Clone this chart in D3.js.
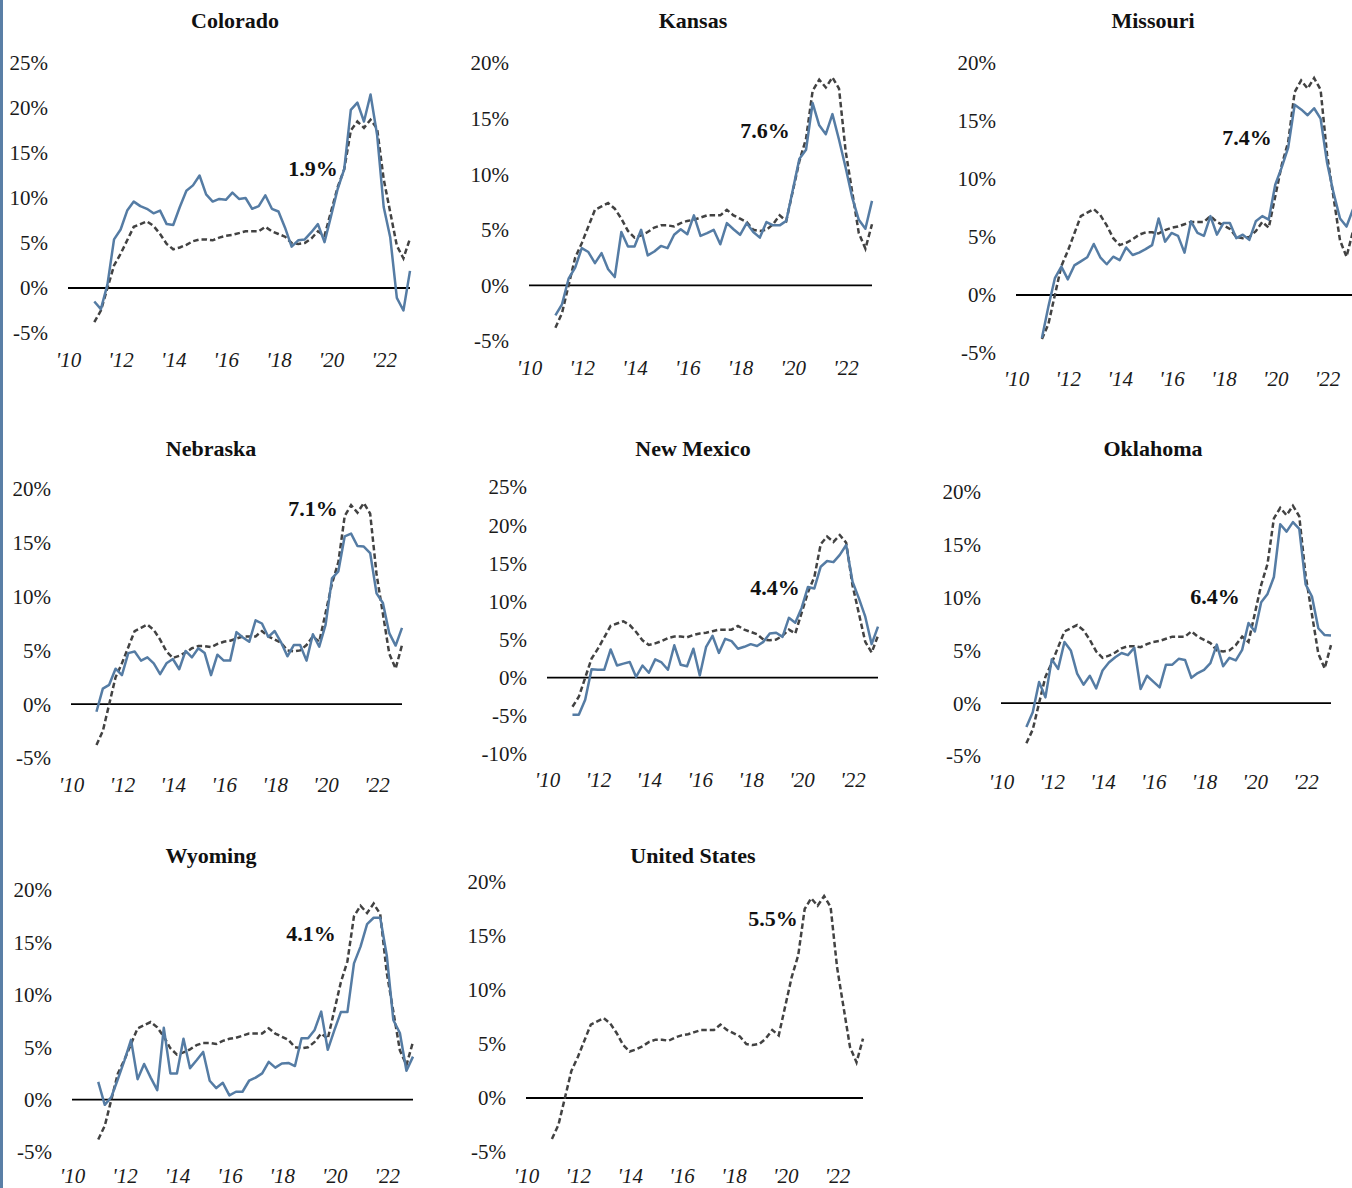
<!DOCTYPE html>
<html>
<head>
<meta charset="utf-8">
<script src="https://cdn.jsdelivr.net/npm/d3@7"></script>
<style>
  html, body { margin: 0; padding: 0; background: #fff; }
  svg { display: block; }
</style>
</head>
<body>
<svg id="chart" width="1352" height="1188"></svg>
<script>
// Year-over-year house price growth, quarterly, 2011Q1 - 2023Q1 (percent)
const firstYear = 2011;
const quarterCount = 49;

const unitedStates = [-3.8, -2.5, 0.0, 2.5, 3.8, 5.3, 6.8, 7.1, 7.4, 6.9, 6.0, 4.9, 4.3, 4.5, 4.8, 5.2, 5.4, 5.4, 5.3, 5.6, 5.8, 5.9, 6.1, 6.3, 6.3, 6.3, 6.8, 6.3, 6.0, 5.7, 5.0, 4.9, 5.0, 5.5, 6.3, 5.8, 8.5, 11.2, 13.2, 17.5, 18.5, 17.8, 18.7, 17.7, 12.1, 8.4, 4.7, 3.3, 5.5];

const colorado = [-1.5, -2.35, 0.4, 5.4, 6.5, 8.6, 9.6, 9.1, 8.8, 8.3, 8.6, 7.1, 7.0, 9.0, 10.8, 11.4, 12.5, 10.4, 9.6, 9.9, 9.8, 10.6, 9.9, 10.0, 8.8, 9.1, 10.3, 8.8, 8.5, 6.7, 4.6, 5.3, 5.4, 6.2, 7.1, 5.1, 8.0, 11.0, 13.2, 19.8, 20.6, 18.5, 21.5, 17.0, 9.0, 5.6, -1.1, -2.5, 1.9];

const kansas = [-2.7, -1.7, 0.6, 1.6, 3.35, 3.0, 2.0, 2.9, 1.45, 0.75, 4.8, 3.5, 3.5, 5.0, 2.7, 3.05, 3.55, 3.35, 4.55, 5.05, 4.6, 6.3, 4.45, 4.7, 5.0, 3.7, 5.6, 5.05, 4.55, 5.6, 4.8, 4.3, 5.7, 5.4, 5.4, 5.8, 8.6, 11.4, 12.2, 16.4, 14.4, 13.6, 15.4, 13.1, 10.6, 7.9, 5.9, 5.1, 7.6];

const missouri = [-3.7, -1.0, 1.45, 2.45, 1.35, 2.55, 2.9, 3.25, 4.4, 3.25, 2.65, 3.3, 3.0, 4.1, 3.45, 3.65, 3.95, 4.3, 6.6, 4.6, 5.35, 5.1, 3.65, 6.35, 5.35, 5.1, 6.8, 5.2, 6.2, 6.2, 4.9, 5.2, 4.75, 6.35, 6.8, 6.5, 9.5, 11.0, 12.7, 16.4, 16.0, 15.5, 16.1, 15.2, 11.4, 8.8, 6.6, 5.9, 7.4];

const nebraska = [-0.7, 1.45, 1.8, 3.3, 2.7, 4.75, 4.9, 4.05, 4.35, 3.8, 2.8, 3.8, 4.2, 3.25, 4.95, 4.35, 5.2, 4.75, 2.7, 4.6, 4.05, 4.05, 6.7, 6.2, 5.8, 7.8, 7.5, 6.25, 6.8, 5.75, 4.45, 5.5, 5.5, 4.05, 6.5, 5.35, 7.4, 11.7, 12.35, 15.6, 15.85, 14.7, 14.65, 14.05, 10.3, 9.4, 6.6, 5.45, 7.1];

const newMexico = [-4.85, -4.85, -2.9, 1.1, 1.05, 1.05, 3.7, 1.6, 1.85, 2.05, 0.1, 1.6, 0.65, 2.4, 2.0, 1.05, 4.25, 1.7, 1.5, 3.8, 0.3, 4.05, 5.5, 3.25, 5.1, 4.8, 3.8, 4.05, 4.4, 4.15, 4.7, 5.8, 5.9, 5.35, 7.85, 7.2, 9.15, 11.9, 11.7, 14.55, 15.3, 15.15, 16.1, 17.4, 12.6, 10.4, 8.0, 4.4, 6.7];

const oklahoma = [-2.25, -0.85, 2.0, 0.55, 4.15, 3.25, 5.8, 5.0, 2.8, 1.75, 2.6, 1.4, 3.1, 3.85, 4.35, 4.75, 4.55, 5.25, 1.35, 2.6, 2.05, 1.5, 3.65, 3.65, 4.2, 4.1, 2.4, 2.85, 3.15, 3.8, 5.55, 3.5, 4.3, 4.05, 5.05, 7.6, 6.8, 9.55, 10.35, 11.95, 16.95, 16.25, 17.15, 16.5, 11.25, 10.1, 7.1, 6.45, 6.4];

const wyoming = [1.7, -0.5, 0.25, 1.95, 3.75, 5.7, 1.95, 3.4, 2.1, 0.9, 6.85, 2.5, 2.5, 5.8, 3.0, 3.75, 4.55, 1.8, 1.1, 1.6, 0.4, 0.75, 0.75, 1.8, 2.1, 2.5, 3.6, 3.05, 3.45, 3.5, 3.2, 5.85, 5.85, 6.65, 8.4, 4.75, 6.6, 8.35, 8.35, 13.0, 14.6, 16.75, 17.35, 17.35, 13.75, 7.6, 6.35, 2.75, 4.1];

const panelNames = ["Colorado", "Kansas", "Missouri", "Nebraska", "New Mexico", "Oklahoma", "Wyoming", "United States"];
const panelSeries = [colorado, kansas, missouri, nebraska, newMexico, oklahoma, wyoming, null];
const latestLabels = ["1.9%", "7.6%", "7.4%", "7.1%", "4.4%", "6.4%", "4.1%", "5.5%"];
const yDomains = [[-5, 25], [-5, 20], [-5, 20], [-5, 20], [-10, 25], [-5, 20], [-5, 20], [-5, 20]];
const xTickYears = [2010, 2012, 2014, 2016, 2018, 2020, 2022];

// Panel geometry: plot left/right (2010 .. 2023), pixel of top/bottom tick, x-label row, title and callout
const layout = [
  { x0: 68,   x1: 410,  yTop: 63,  yBot: 333,  xLab: 360,  title: [235, 20],  note: [313, 168] },
  { x0: 529,  x1: 872,  yTop: 63,  yBot: 341,  xLab: 368,  title: [693, 20],  note: [765, 130] },
  { x0: 1016, x1: 1353, yTop: 63,  yBot: 353,  xLab: 379,  title: [1153, 20], note: [1247, 137] },
  { x0: 71,   x1: 402,  yTop: 489, yBot: 758,  xLab: 785,  title: [211, 448], note: [313, 508] },
  { x0: 547,  x1: 878,  yTop: 487, yBot: 754,  xLab: 780,  title: [693, 448], note: [775, 587] },
  { x0: 1001, x1: 1331, yTop: 492, yBot: 756,  xLab: 782,  title: [1153, 448], note: [1215, 596] },
  { x0: 72,   x1: 413,  yTop: 890, yBot: 1152, xLab: 1176, title: [211, 855], note: [311, 933] },
  { x0: 526,  x1: 863,  yTop: 882, yBot: 1152, xLab: 1176, title: [693, 855], note: [773, 918] }
];

const FONT = "'Liberation Serif', 'DejaVu Serif', serif";
const STATE_COLOR = "#557ca4";
const US_COLOR = "#424242";

const svg = d3.select("#chart");

// blue rule down the left edge
svg.append("rect").attr("x", 0).attr("y", 0).attr("width", 3).attr("height", 1188).attr("fill", "#5a7fa6");

const quarterYears = d3.range(quarterCount).map(i => firstYear + i / 4);

panelNames.forEach((name, p) => {
  const L = layout[p];
  const [yMin, yMax] = yDomains[p];
  const x = d3.scaleLinear().domain([2010, 2023]).range([L.x0, L.x1]);
  const y = d3.scaleLinear().domain([yMin, yMax]).range([L.yBot, L.yTop]);
  const g = svg.append("g");

  // title
  g.append("text")
    .attr("x", L.title[0]).attr("y", L.title[1])
    .attr("text-anchor", "middle").attr("dominant-baseline", "central")
    .attr("font-family", FONT).attr("font-weight", "bold").attr("font-size", 22)
    .attr("fill", "#111").text(name);

  // y axis labels
  const yAxis = d3.axisLeft(y)
    .tickValues(d3.range(yMin, yMax + 1, 5))
    .tickSize(0).tickPadding(20)
    .tickFormat(d => d + "%");
  const ya = g.append("g").attr("transform", `translate(${L.x0},0)`).call(yAxis);
  ya.select(".domain").remove();
  ya.selectAll("text").attr("font-family", FONT).attr("font-size", 21).attr("fill", "#1a1a1a").attr("dy", "0.33em");

  // x axis labels
  const xAxis = d3.axisBottom(x)
    .tickValues(xTickYears)
    .tickSize(0).tickPadding(0)
    .tickFormat(d => "'" + String(d).slice(2));
  const xa = g.append("g").attr("transform", `translate(0,${L.xLab})`).call(xAxis);
  xa.select(".domain").remove();
  xa.selectAll("text").attr("font-family", FONT).attr("font-style", "italic")
    .attr("font-size", 21).attr("fill", "#1a1a1a").attr("dy", "0.35em");

  // zero line
  g.append("line")
    .attr("x1", x(2010)).attr("x2", x(2023))
    .attr("y1", y(0)).attr("y2", y(0))
    .attr("stroke", "#000").attr("stroke-width", 1.8);

  const line = d3.line().x((d, i) => x(quarterYears[i])).y(d => y(d));

  // national series, dashed
  g.append("path").datum(unitedStates)
    .attr("d", line).attr("fill", "none")
    .attr("stroke", US_COLOR).attr("stroke-width", 2.5)
    .attr("stroke-dasharray", "5.5,3");

  // state series
  if (panelSeries[p]) {
    g.append("path").datum(panelSeries[p])
      .attr("d", line).attr("fill", "none")
      .attr("stroke", STATE_COLOR).attr("stroke-width", 2.5)
      .attr("stroke-linejoin", "round");
  }

  // latest value callout
  g.append("text")
    .attr("x", L.note[0]).attr("y", L.note[1])
    .attr("text-anchor", "middle").attr("dominant-baseline", "central")
    .attr("font-family", FONT).attr("font-weight", "bold").attr("font-size", 22)
    .attr("fill", "#111").text(latestLabels[p]);
});
</script>
</body>
</html>
